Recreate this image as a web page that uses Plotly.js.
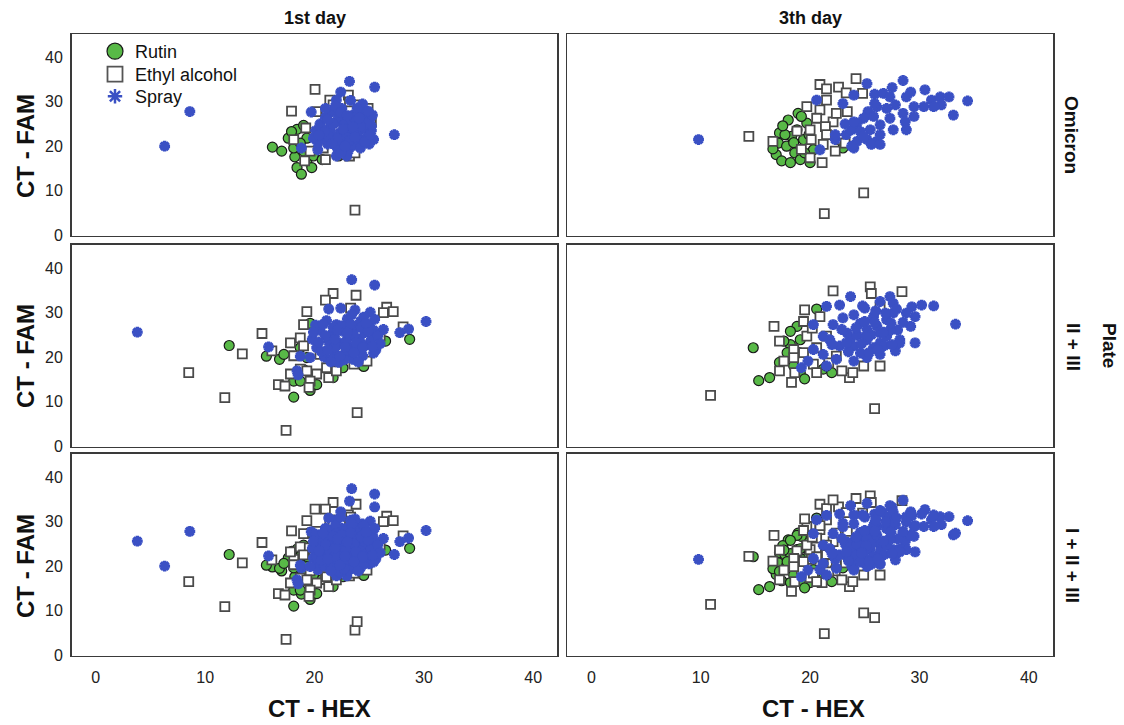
<!DOCTYPE html>
<html>
<head>
<meta charset="utf-8">
<script src="https://cdn.plot.ly/plotly-3.0.1.min.js"></script>
<style>html,body{margin:0;padding:0;background:#fff;}#chart{width:1124px;height:725px;}</style>
</head>
<body>
<div id="chart"></div>
<script>
// ---------- DATA (CT-HEX, CT-FAM pairs) ----------
// Omicron, 1st day
const omicronDay1Rutin = [[16.15,19.8],[17.0,18.9],[17.6,21.8],[18.4,23.8],[19.0,24.7],[18.2,17.6],[19.3,16.7],[18.4,15.2],[18.8,13.7],[19.75,15.2],[18.1,19.6],[19.0,18.9],[19.9,17.8],[19.3,21.8],[20.7,17.0],[22.2,17.8],[17.9,23.3],[18.7,20.7]];
const omicronDay1Ethyl = [[20.05,32.8],[17.9,27.9],[23.7,5.6],[21.4,30.4],[23.1,31.5],[23.2,30.0],[24.9,28.5],[24.9,21.8],[21.0,17.0],[23.2,17.8],[19.2,24.1],[20.8,19.6],[18.1,21.5],[19.1,16.7],[20.2,27.8],[22.3,18.2],[24.6,23.3],[24.0,29.3],[21.7,29.3],[19.6,18.9],[25.2,25.5],[23.7,18.5]];
const omicronDay1Spray = [[6.3,20.0],[8.6,27.8],[23.2,34.6],[25.5,33.3],[27.3,22.6],[22.4,32.2],[22.0,30.4],[19.7,27.7],[18.8,19.6],[20.3,19.2],[22.0,17.8],[22.95,17.8],[24.3,28.5],[25.1,26.3],
 [20.1,23.5],[20.5,25.0],[20.8,22.0],[21.0,26.5],[21.2,20.5],[21.4,24.0],[21.6,27.8],[21.8,21.5],[22.0,25.5],[22.1,19.5],[22.3,23.0],[22.5,28.5],[22.6,21.0],[22.8,26.0],[23.0,24.2],[23.1,19.0],[23.3,22.5],[23.5,27.0],[23.6,20.2],[23.8,25.0],[24.0,23.0],[24.1,28.0],[24.3,21.2],[24.5,26.2],[24.6,24.0],[24.8,22.0],[25.0,25.5],[25.2,23.5],[25.3,27.0],[25.4,21.5],[25.2,24.5],[21.5,23.0],[22.7,24.8],[23.9,26.8],[21.9,29.0],[23.3,30.3],[24.4,29.5],[20.3,20.8],[22.4,18.5],[24.2,19.6],[25.0,20.5],[21.0,28.5],[23.6,23.8],[22.2,26.8],[24.9,27.9],[19.9,21.8],[20.6,24.2],[21.3,22.2],[22.9,22.0],[23.4,25.8],[24.7,25.1],
 [20.9,23.2],[21.7,25.0],[22.1,21.7],[22.6,23.9],[23.2,21.3],[23.7,22.0],[24.2,24.6],[21.2,26.0],[22.4,27.6],[23.0,26.9],[23.9,28.6],[24.6,21.0],[20.4,22.5],[21.6,20.6],[22.8,20.0],[23.5,24.4],[24.1,26.3],[25.1,22.6]];

// Omicron, 3th day
const omicronDay3Rutin = [[18.9,27.4],[19.7,25.2],[18.0,25.9],[17.2,23.0],[17.1,20.7],[17.85,20.0],[16.9,18.1],[17.4,16.7],[18.2,16.3],[18.6,18.5],[19.1,17.0],[19.4,21.5],[18.3,22.2],[20.0,16.3],[20.3,19.2],[18.8,23.7],[17.7,22.6],[19.5,18.5],[23.0,19.6],[19.2,26.7],[16.6,19.4],[17.5,24.6],[18.5,20.8],[19.9,22.6]];
const omicronDay3Ethyl = [[14.4,22.2],[24.2,35.2],[20.9,33.9],[21.5,32.9],[22.6,33.3],[23.3,32.0],[24.8,31.9],[21.5,30.4],[19.7,28.9],[20.9,28.2],[23.4,27.8],[20.6,26.3],[22.1,25.5],[20.0,23.7],[21.4,24.4],[18.8,23.4],[16.6,21.1],[20.1,21.5],[21.5,22.6],[22.7,21.5],[21.2,20.4],[22.3,18.9],[20.0,17.4],[21.1,16.3],[23.2,20.7],[22.4,27.4],[19.2,19.3],[24.9,9.5],[21.3,4.8]];
const omicronDay3Spray = [[9.8,21.5],[20.6,30.4],[20.9,19.2],[22.3,21.5],[23.3,22.6],[24.0,19.6],[23.0,29.6],[24.0,31.5],[25.2,34.1],[25.9,31.7],[26.7,31.9],[27.5,33.2],[27.3,31.1],[28.5,34.8],[29.2,32.2],[30.5,32.7],[30.4,28.9],[31.1,30.4],[31.9,31.1],[32.7,31.1],[32.0,29.3],[34.4,30.2],[33.1,27.0],[31.3,28.9],[29.5,28.9],[28.5,27.4],[28.7,25.5],[29.5,26.7],[27.8,29.3],[27.0,28.5],[26.1,28.9],[25.3,27.8],[24.9,26.3],[25.8,26.7],[26.4,24.8],[24.3,25.2],[23.8,23.7],[24.6,23.3],[25.5,23.7],[25.2,21.5],[26.1,21.1],[26.4,22.6],[27.6,23.7],[28.8,23.7],[27.3,26.3],[24.3,21.1],[25.6,20.4],[26.4,20.4],[23.8,20.0],[24.9,22.2],[23.2,25.0],[25.9,29.6],[28.8,31.1],[24.0,25.5],[22.3,22.6]];

// Plate II + III, 1st day
const plateDay1Rutin = [[12.2,22.6],[15.6,20.2],[18.1,11.0],[19.6,27.6],[16.8,19.5],[18.1,14.6],[18.7,14.6],[19.6,12.5],[21.7,15.4],[24.5,17.9],[26.5,23.6],[28.7,24.0],[19.3,19.9],[22.6,17.6],[17.2,20.6],[18.7,22.1],[20.2,13.8],[19.0,17.2]];
const plateDay1Ethyl = [[15.2,25.3],[13.4,20.7],[11.8,10.9],[8.5,16.5],[17.4,3.5],[23.9,7.5],[21.7,34.3],[21.0,32.8],[23.8,33.9],[19.3,30.2],[23.3,31.0],[26.6,31.2],[27.2,30.2],[26.3,30.0],[28.1,26.8],[26.0,24.7],[19.0,27.3],[18.7,24.3],[17.8,23.2],[16.1,21.4],[18.1,20.3],[17.8,16.2],[16.7,13.8],[18.7,17.3],[19.3,16.9],[20.2,16.2],[19.6,14.6],[21.1,17.6],[21.3,15.4],[22.0,16.9],[23.6,18.4],[19.0,22.5],[20.5,20.6],[24.8,19.1],[19.5,13.2],[17.3,13.5]];
const plateDay1Spray = [[3.8,25.6],[23.4,37.4],[25.5,36.2],[30.2,28.0],[28.6,26.3],[27.8,25.5],[21.3,30.8],[23.7,30.6],[25.1,30.1],[15.8,22.3],[18.7,20.2],[18.4,16.9],[18.5,16.0],[19.6,19.9],[25.4,20.9],[26.3,26.2],[22.4,31.0],
 [19.8,24.0],[20.2,22.1],[20.5,26.0],[20.9,20.0],[21.1,28.2],[21.3,23.5],[21.6,25.2],[21.8,21.0],[22.0,27.3],[22.2,18.8],[22.4,23.0],[22.6,25.8],[22.8,20.6],[23.0,28.6],[23.1,22.4],[23.3,24.7],[23.5,19.5],[23.7,26.8],[23.9,21.8],[24.1,24.0],[24.2,28.0],[24.4,20.3],[24.6,25.5],[24.8,22.8],[25.0,27.2],[25.2,23.9],[25.4,26.0],[25.6,21.6],[25.8,24.8],[21.0,24.8],[22.5,27.0],[23.4,29.5],[24.5,29.0],[21.9,22.3],[22.9,23.6],[23.6,25.0],[24.3,26.6],[20.6,21.3],[21.5,19.6],[22.7,19.4],[24.0,18.9],[20.1,27.2],[25.5,28.5],[26.0,23.0],[19.9,25.6],[21.7,26.7],
 [20.4,23.4],[21.2,21.6],[21.9,24.1],[22.3,20.2],[22.8,22.2],[23.3,27.4],[23.8,23.2],[24.4,22.1],[24.9,25.9],[25.3,22.4],[20.8,27.4],[22.1,26.0],[23.6,21.0],[24.7,27.6],[21.5,18.9],[23.0,25.4]];

// Plate II + III, 3th day
const plateDay3Rutin = [[14.8,22.1],[15.3,14.7],[16.3,15.4],[20.6,30.8],[18.8,26.9],[18.2,25.8],[18.2,22.8],[17.9,21.0],[19.0,21.0],[17.2,18.8],[18.5,18.0],[19.1,16.5],[19.5,15.1],[21.2,17.3],[21.98,16.5],[21.5,18.0],[19.1,23.9],[17.6,23.6]];
const plateDay3Ethyl = [[10.9,11.4],[25.9,8.4],[22.1,34.9],[25.5,35.8],[25.6,34.3],[28.4,34.7],[19.5,30.6],[20.9,29.1],[16.7,26.9],[19.4,28.0],[19.7,24.7],[17.2,23.6],[18.5,21.7],[19.4,21.0],[17.6,19.1],[17.2,16.9],[18.3,14.3],[18.6,16.5],[20.3,18.4],[20.6,16.5],[21.7,18.7],[23.6,15.4],[23.9,16.5],[22.9,16.9],[26.4,18.0],[20.6,22.1],[21.5,24.7],[22.4,20.2],[18.5,19.9],[20.2,26.5],[24.9,18.0],[26.4,31.3]];
const plateDay3Spray = [[33.3,27.4],[31.3,31.5],[19.2,17.6],[20.3,27.3],[21.5,31.4],[22.7,31.7],[23.7,33.6],[25.0,31.0],[26.4,32.5],[27.3,33.6],[27.6,32.1],[29.3,31.3],[30.2,31.7],[29.6,29.1],[29.2,26.9],[29.6,23.2],[28.2,23.9],[27.8,21.4],[26.4,20.6],[25.2,19.9],[24.0,19.1],[22.4,19.5],[21.2,20.6],[20.3,21.7],[21.8,23.9],[23.4,25.4],[24.6,27.6],[25.8,29.1],[27.0,28.4],[28.0,26.1],[26.4,25.4],[25.2,23.9],[24.0,22.5],[22.7,22.5],[22.1,27.3],[24.0,29.5],[26.4,23.2],[27.6,29.9],[28.8,29.9],[25.2,26.2],[23.7,24.3],[21.2,24.7],[24.6,20.9],[25.8,22.1],[27.0,24.7],[28.2,23.2],[21.5,18.0],[19.8,19.1],
 [22.9,26.2],[23.5,21.2],[24.3,24.9],[25.0,28.0],[25.6,25.0],[26.1,27.0],[26.8,22.6],[27.3,26.0],[28.5,27.8],[23.0,28.8],[24.8,31.5],[26.0,30.4],[22.0,22.8],[27.9,30.8],[25.4,21.0],
 [24.2,26.6],[25.1,24.6],[26.7,25.6],[27.4,27.6],[25.9,27.8],[26.9,29.9],[23.3,23.2],[24.7,23.0],[26.2,21.6],[27.5,22.8]];

// Series definitions
const seriesNames = ['Rutin', 'Ethyl alcohol', 'Spray'];
const colTitles = ['1st day', '3th day'];
const rowTitles = ['Omicron', 'II + III', 'I + II + III'];
const plateLabel = 'Plate';
const axisTitleX = 'CT - HEX';
const axisTitleY = 'CT - FAM';
const xTicks = [0, 10, 20, 30, 40];
const yTicks = [0, 10, 20, 30, 40];

// panels: [row][col] -> [rutin, ethyl, spray]
const panels = [
  [[omicronDay1Rutin, omicronDay1Ethyl, omicronDay1Spray], [omicronDay3Rutin, omicronDay3Ethyl, omicronDay3Spray]],
  [[plateDay1Rutin, plateDay1Ethyl, plateDay1Spray], [plateDay3Rutin, plateDay3Ethyl, plateDay3Spray]]
];
// I + II + III is the union of the two groups above
panels.push([0, 1].map(c => [0, 1, 2].map(s => panels[0][c][s].concat(panels[1][c][s]))));

// ---------- STYLE ----------
const markerStyles = [
  {symbol: 'circle', size: 10, color: '#58b947', line: {color: '#1a1a1a', width: 1.2}},
  {symbol: 'square', size: 9, color: '#ffffff', line: {color: '#4a4a4a', width: 1.8}},
  {symbol: 'asterisk-open', size: 9, color: '#3a50c4', line: {color: '#3a50c4', width: 3.4}}
];
const legendStyles = [
  {symbol: 'circle', size: 16, color: '#58b947', line: {color: '#1a1a1a', width: 1.2}},
  {symbol: 'square', size: 15, color: '#ffffff', line: {color: '#555', width: 1.8}},
  {symbol: 'asterisk-open', size: 12, color: '#3a50c4', line: {color: '#3a50c4', width: 2.5}}
];

const W = 1124, H = 725;
const colPx = [[71.7, 557.3], [567.3, 1052.9]];
const rowPx = [[34.3, 235.7], [245, 446.7], [454, 655.7]];
const legendRowsPx = [51.5, 74.5, 96.5];

const traces = [];
const layout = {
  width: W, height: H,
  margin: {l: 0, r: 0, t: 0, b: 0},
  paper_bgcolor: '#fff', plot_bgcolor: '#fff',
  font: {family: 'Liberation Sans, Arial, sans-serif', color: '#111', size: 16},
  showlegend: true,
  annotations: []
};
const legendIds = ['legend', 'legend2', 'legend3'];
legendIds.forEach((id, i) => {
  layout[id] = {x: 95 / W, y: 1 - legendRowsPx[i] / H, xanchor: 'left', yanchor: 'middle',
    bgcolor: 'rgba(0,0,0,0)', borderwidth: 0, font: {size: 18, color: '#111'}, itemwidth: 30};
});

let k = 0;
for (let r = 0; r < 3; r++) {
  for (let c = 0; c < 2; c++) {
    k++;
    const xa = k === 1 ? 'xaxis' : 'xaxis' + k;
    const ya = k === 1 ? 'yaxis' : 'yaxis' + k;
    const xr = k === 1 ? 'x' : 'x' + k;
    const yr = k === 1 ? 'y' : 'y' + k;
    layout[xa] = {
      domain: [colPx[c][0] / W, colPx[c][1] / W], anchor: yr,
      range: [-2.2, 42.2], showgrid: false, zeroline: false,
      showline: true, mirror: true, linecolor: '#3a3a3a', linewidth: 1.6,
      tickvals: xTicks, showticklabels: r === 2,
      ticks: 'outside', ticklen: 6, tickcolor: 'rgba(0,0,0,0)',
      tickfont: {size: 16, color: '#222'}, fixedrange: true
    };
    layout[ya] = {
      domain: [1 - rowPx[r][1] / H, 1 - rowPx[r][0] / H], anchor: xr,
      range: [-0.15, 45.2], showgrid: false, zeroline: false,
      showline: true, mirror: true, linecolor: '#3a3a3a', linewidth: 1.6,
      tickvals: yTicks, showticklabels: c === 0,
      ticks: 'outside', ticklen: 4, tickcolor: 'rgba(0,0,0,0)',
      tickfont: {size: 16, color: '#222'}, fixedrange: true
    };
    for (let s = 0; s < 3; s++) {
      const pts = panels[r][c][s];
      traces.push({
        type: 'scatter', mode: 'markers', name: seriesNames[s],
        x: pts.map(p => p[0]), y: pts.map(p => p[1]),
        xaxis: xr, yaxis: yr, showlegend: false, cliponaxis: true,
        marker: markerStyles[s]
      });
    }
  }
}
// legend entries (no data points), one legend box per entry
for (let s = 0; s < 3; s++) {
  traces.push({type: 'scatter', mode: 'markers', name: seriesNames[s], x: [null], y: [null],
    xaxis: 'x', yaxis: 'y', showlegend: true, legend: legendIds[s], marker: legendStyles[s]});
}

const ann = layout.annotations;
const bold = t => '<b>' + t + '</b>';
const addText = (t, px, py, size, angle) => ann.push({text: bold(t), xref: 'paper', yref: 'paper', showarrow: false,
  x: px / W, y: 1 - py / H, xanchor: 'center', yanchor: 'middle', textangle: angle || 0,
  font: {size: size, color: '#111'}});
colTitles.forEach((t, c) => addText(t, (colPx[c][0] + colPx[c][1]) / 2, 18, 18));
[146, 356, 566].forEach(py => addText(axisTitleY, 25, py, 24, -90));
[319, 813].forEach(px => addText(axisTitleX, px, 708, 24));
[[1072, 135], [1073, 347], [1073, 565]].forEach((p, i) => addText(rowTitles[i], p[0], p[1], 19, 90));
addText(plateLabel, 1110, 345, 19, 90);

Plotly.newPlot('chart', traces, layout, {displayModeBar: false, staticPlot: true});
</script>
</body>
</html>
